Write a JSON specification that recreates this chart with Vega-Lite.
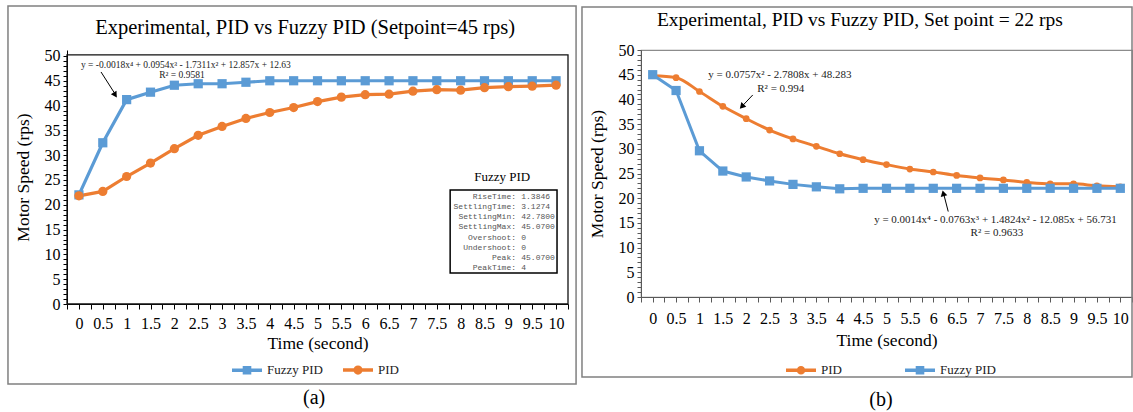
{
  "$schema": "https://vega.github.io/schema/vega-lite/v6.json",
  "padding": {"left": 7, "top": 5, "right": 0, "bottom": 0},
  "bounds": "flush",
  "spacing": 73,
  "background": "white",
  "config": {
    "font": "Liberation Serif",
    "view": {"stroke": null},
    "axis": {"labelFont": "Liberation Serif", "titleFont": "Liberation Serif", "labelColor": "#000", "titleColor": "#000", "titleFontWeight": "normal", "labelFontSize": 16, "titleFontSize": 17.5, "grid": false, "tickSize": 5, "labelPadding": 3, "labelOverlap": false, "labelBound": false, "labelFlush": false},
    "legend": {"labelFont": "Liberation Serif", "labelFontSize": 13, "labelColor": "#222"}
  },
  "datasets": {
    "left": [
      {"t": 0, "v": 22, "series": "Fuzzy PID"}, {"t": 0.5, "v": 32.5, "series": "Fuzzy PID"}, {"t": 1, "v": 41.2, "series": "Fuzzy PID"}, {"t": 1.5, "v": 42.7, "series": "Fuzzy PID"}, {"t": 2, "v": 44.1, "series": "Fuzzy PID"}, {"t": 2.5, "v": 44.4, "series": "Fuzzy PID"}, {"t": 3, "v": 44.4, "series": "Fuzzy PID"}, {"t": 3.5, "v": 44.7, "series": "Fuzzy PID"}, {"t": 4, "v": 45, "series": "Fuzzy PID"}, {"t": 4.5, "v": 45, "series": "Fuzzy PID"}, {"t": 5, "v": 45, "series": "Fuzzy PID"}, {"t": 5.5, "v": 45, "series": "Fuzzy PID"}, {"t": 6, "v": 45, "series": "Fuzzy PID"}, {"t": 6.5, "v": 45, "series": "Fuzzy PID"}, {"t": 7, "v": 45, "series": "Fuzzy PID"}, {"t": 7.5, "v": 45, "series": "Fuzzy PID"}, {"t": 8, "v": 45, "series": "Fuzzy PID"}, {"t": 8.5, "v": 45, "series": "Fuzzy PID"}, {"t": 9, "v": 45, "series": "Fuzzy PID"}, {"t": 9.5, "v": 45, "series": "Fuzzy PID"}, {"t": 10, "v": 45, "series": "Fuzzy PID"},
      {"t": 0, "v": 21.8, "series": "PID"}, {"t": 0.5, "v": 22.7, "series": "PID"}, {"t": 1, "v": 25.7, "series": "PID"}, {"t": 1.5, "v": 28.4, "series": "PID"}, {"t": 2, "v": 31.3, "series": "PID"}, {"t": 2.5, "v": 34, "series": "PID"}, {"t": 3, "v": 35.8, "series": "PID"}, {"t": 3.5, "v": 37.4, "series": "PID"}, {"t": 4, "v": 38.6, "series": "PID"}, {"t": 4.5, "v": 39.6, "series": "PID"}, {"t": 5, "v": 40.8, "series": "PID"}, {"t": 5.5, "v": 41.7, "series": "PID"}, {"t": 6, "v": 42.2, "series": "PID"}, {"t": 6.5, "v": 42.3, "series": "PID"}, {"t": 7, "v": 42.9, "series": "PID"}, {"t": 7.5, "v": 43.2, "series": "PID"}, {"t": 8, "v": 43.1, "series": "PID"}, {"t": 8.5, "v": 43.6, "series": "PID"}, {"t": 9, "v": 43.8, "series": "PID"}, {"t": 9.5, "v": 43.9, "series": "PID"}, {"t": 10, "v": 44.1, "series": "PID"}
    ],
    "right": [
      {"t": 0, "v": 44.8, "series": "PID"}, {"t": 0.5, "v": 44.4, "series": "PID"}, {"t": 1, "v": 41.6, "series": "PID"}, {"t": 1.5, "v": 38.6, "series": "PID"}, {"t": 2, "v": 36.1, "series": "PID"}, {"t": 2.5, "v": 33.8, "series": "PID"}, {"t": 3, "v": 32.0, "series": "PID"}, {"t": 3.5, "v": 30.5, "series": "PID"}, {"t": 4, "v": 29.0, "series": "PID"}, {"t": 4.5, "v": 27.8, "series": "PID"}, {"t": 5, "v": 26.8, "series": "PID"}, {"t": 5.5, "v": 25.9, "series": "PID"}, {"t": 6, "v": 25.3, "series": "PID"}, {"t": 6.5, "v": 24.6, "series": "PID"}, {"t": 7, "v": 24.1, "series": "PID"}, {"t": 7.5, "v": 23.7, "series": "PID"}, {"t": 8, "v": 23.2, "series": "PID"}, {"t": 8.5, "v": 22.9, "series": "PID"}, {"t": 9, "v": 22.9, "series": "PID"}, {"t": 9.5, "v": 22.5, "series": "PID"}, {"t": 10, "v": 22.3, "series": "PID"},
      {"t": 0, "v": 45, "series": "Fuzzy PID"}, {"t": 0.5, "v": 41.8, "series": "Fuzzy PID"}, {"t": 1, "v": 29.6, "series": "Fuzzy PID"}, {"t": 1.5, "v": 25.5, "series": "Fuzzy PID"}, {"t": 2, "v": 24.3, "series": "Fuzzy PID"}, {"t": 2.5, "v": 23.5, "series": "Fuzzy PID"}, {"t": 3, "v": 22.8, "series": "Fuzzy PID"}, {"t": 3.5, "v": 22.3, "series": "Fuzzy PID"}, {"t": 4, "v": 21.9, "series": "Fuzzy PID"}, {"t": 4.5, "v": 22, "series": "Fuzzy PID"}, {"t": 5, "v": 22, "series": "Fuzzy PID"}, {"t": 5.5, "v": 22, "series": "Fuzzy PID"}, {"t": 6, "v": 22, "series": "Fuzzy PID"}, {"t": 6.5, "v": 22, "series": "Fuzzy PID"}, {"t": 7, "v": 22, "series": "Fuzzy PID"}, {"t": 7.5, "v": 22, "series": "Fuzzy PID"}, {"t": 8, "v": 22, "series": "Fuzzy PID"}, {"t": 8.5, "v": 22, "series": "Fuzzy PID"}, {"t": 9, "v": 22, "series": "Fuzzy PID"}, {"t": 9.5, "v": 22, "series": "Fuzzy PID"}, {"t": 10, "v": 22, "series": "Fuzzy PID"}
    ]
  },
  "hconcat": [
    {
      "width": 501,
      "height": 254,
      "resolve": {"axis": {"x": "independent", "y": "independent"}},
      "layer": [
        {
          "data": {"name": "left"},
          "encoding": {
            "x": {"field": "t", "type": "quantitative", "scale": {"domain": [-0.25, 10.25], "nice": false, "zero": false},
              "axis": {"title": "Time (second)", "format": "~g", "values": [-0.25, 0, 0.25, 0.5, 0.75, 1, 1.25, 1.5, 1.75, 2, 2.25, 2.5, 2.75, 3, 3.25, 3.5, 3.75, 4, 4.25, 4.5, 4.75, 5, 5.25, 5.5, 5.75, 6, 6.25, 6.5, 6.75, 7, 7.25, 7.5, 7.75, 8, 8.25, 8.5, 8.75, 9, 9.25, 9.5, 9.75, 10, 10.25],
                "labelExpr": "(datum.value * 2) % 1 == 0 && datum.value >= 0 ? datum.label : ''", "labelFont": "Liberation Serif", "titleFont": "Liberation Serif", "domainColor": "#000", "tickColor": "#000", "labelPadding": 6, "titlePadding": 3}},
            "y": {"field": "v", "type": "quantitative", "scale": {"domain": [0, 51.2], "nice": false},
              "axis": {"title": "Motor Speed (rps)", "values": [0, 1, 2, 3, 4, 5, 6, 7, 8, 9, 10, 11, 12, 13, 14, 15, 16, 17, 18, 19, 20, 21, 22, 23, 24, 25, 26, 27, 28, 29, 30, 31, 32, 33, 34, 35, 36, 37, 38, 39, 40, 41, 42, 43, 44, 45, 46, 47, 48, 49, 50],
                "labelExpr": "datum.value % 5 == 0 ? datum.label : ''", "labelFont": "Liberation Serif", "titleFont": "Liberation Serif", "tickSize": 4, "domainColor": "#000", "tickColor": "#000", "titlePadding": 12}},
            "color": {"field": "series", "type": "nominal", "scale": {"domain": ["Fuzzy PID", "PID"], "range": ["#5B9BD5", "#ED7D31"]},
              "legend": {"title": null, "orient": "none", "legendX": 163, "legendY": 303, "direction": "horizontal", "symbolSize": 900, "columnPadding": 13, "labelOffset": 3, "labelFont": "Liberation Serif", "labelFontSize": 13,
                "encode": {"symbols": {"update": {
                  "shape": {"signal": "datum.value === 'PID' ? 'M-1,0H1M0.19,0A0.19,0.19,0,1,1,-0.19,0A0.19,0.19,0,1,1,0.19,0Z' : 'M-1,0H1M-0.17,-0.17H0.17V0.17H-0.17Z'"},
                  "fill": {"signal": "datum.value === 'PID' ? '#ED7D31' : '#5B9BD5'"},
                  "stroke": {"signal": "datum.value === 'PID' ? '#ED7D31' : '#5B9BD5'"},
                  "strokeWidth": {"value": 3.5},
                  "opacity": {"value": 1}
                }}}}}
          },
          "layer": [
            {"mark": {"type": "line", "strokeWidth": 3.2}},
            {"transform": [{"filter": "datum.series === 'Fuzzy PID'"}], "mark": {"type": "point", "shape": "square", "filled": true, "size": 85, "opacity": 1}},
            {"transform": [{"filter": "datum.series === 'PID'"}], "mark": {"type": "point", "shape": "circle", "filled": true, "size": 85, "opacity": 1}}
          ]
        },
        {
          "data": {"values": [{}]},
          "mark": {"type": "rect", "filled": false, "stroke": "#808080", "strokeWidth": 1.5},
          "encoding": {
            "x": {"datum": -1.487, "type": "quantitative", "axis": null},
            "x2": {"datum": 10.419},
            "y": {"datum": 60.08, "type": "quantitative", "axis": null},
            "y2": {"datum": -16.13}
          }
        },
        {
          "data": {"values": [{}]},
          "mark": {"type": "rect", "filled": false, "stroke": "#111", "strokeWidth": 1.3},
          "encoding": {
            "x": {"datum": -0.25, "type": "quantitative", "axis": null},
            "x2": {"datum": 10.25},
            "y": {"datum": 50.2, "type": "quantitative", "axis": null},
            "y2": {"datum": 0}
          }
        },
        {
          "data": {"values": [{}]},
          "mark": {"type": "text", "text": "Experimental, PID vs Fuzzy PID (Setpoint=45 rps)", "align": "center", "baseline": "middle", "fontSize": 20.5, "font": "Liberation Serif", "color": "#000"},
          "encoding": {
            "x": {"datum": 4.74, "type": "quantitative", "axis": null},
            "y": {"datum": 55.6, "type": "quantitative", "axis": null}
          }
        },
        {
          "data": {"values": [{}]},
          "mark": {"type": "text", "text": "y = -0.0018x⁴ + 0.0954x³ - 1.7311x²  + 12.857x + 12.63", "align": "left", "baseline": "middle", "fontSize": 9.5, "font": "Liberation Serif", "color": "#222"},
          "encoding": {
            "x": {"datum": 0.043, "type": "quantitative", "axis": null},
            "y": {"datum": 48.2, "type": "quantitative", "axis": null}
          }
        },
        {
          "data": {"values": [{}]},
          "mark": {"type": "text", "text": "R² = 0.9581", "align": "center", "baseline": "middle", "fontSize": 9.5, "font": "Liberation Serif", "color": "#222"},
          "encoding": {
            "x": {"datum": 2.16, "type": "quantitative", "axis": null},
            "y": {"datum": 46.2, "type": "quantitative", "axis": null}
          }
        },
        {
          "data": {"values": [{}]},
          "mark": {"type": "rule", "color": "#000", "strokeWidth": 1},
          "encoding": {
            "x": {"datum": 0.463, "type": "quantitative", "axis": null},
            "x2": {"datum": 0.74},
            "y": {"datum": 46.77, "type": "quantitative", "axis": null},
            "y2": {"datum": 42.6}
          }
        },
        {
          "data": {"values": [{}]},
          "mark": {"type": "point", "shape": "triangle", "filled": true, "color": "#000", "size": 45, "angle": 147, "opacity": 1},
          "encoding": {
            "x": {"datum": 0.75, "type": "quantitative", "axis": null},
            "y": {"datum": 42.3, "type": "quantitative", "axis": null}
          }
        },
        {
          "data": {"values": [{}]},
          "mark": {"type": "rect", "fill": "white", "stroke": "#000", "strokeWidth": 1.5},
          "encoding": {
            "x": {"datum": 7.78, "type": "quantitative", "axis": null},
            "x2": {"datum": 10.02},
            "y": {"datum": 22.98, "type": "quantitative", "axis": null},
            "y2": {"datum": 6.25}
          }
        },
        {
          "data": {"values": [{}]},
          "mark": {"type": "text", "text": "Fuzzy PID", "align": "center", "baseline": "middle", "fontSize": 13, "font": "Liberation Serif", "color": "#000"},
          "encoding": {
            "x": {"datum": 8.87, "type": "quantitative", "axis": null},
            "y": {"datum": 25.6, "type": "quantitative", "axis": null}
          }
        },
        {
          "data": {"values": [{}]},
          "mark": {"type": "text", "text": ["RiseTime:", "SettlingTime:", "SettlingMin:", "SettlingMax:", "Overshoot:", "Undershoot:", "Peak:", "PeakTime:"], "align": "right", "baseline": "top", "lineHeight": 10.2, "fontSize": 8, "font": "Liberation Mono", "color": "#555"},
          "encoding": {
            "x": {"datum": 9.16, "type": "quantitative", "axis": null},
            "y": {"datum": 22.4, "type": "quantitative", "axis": null}
          }
        },
        {
          "data": {"values": [{}]},
          "mark": {"type": "text", "text": ["1.3846", "3.1274", "42.7800", "45.0700", "0", "0", "45.0700", "4"], "align": "left", "baseline": "top", "lineHeight": 10.2, "fontSize": 8, "font": "Liberation Mono", "color": "#555"},
          "encoding": {
            "x": {"datum": 9.27, "type": "quantitative", "axis": null},
            "y": {"datum": 22.4, "type": "quantitative", "axis": null}
          }
        },
        {
          "data": {"values": [{}]},
          "mark": {"type": "text", "text": "(a)", "align": "center", "baseline": "middle", "fontSize": 20, "font": "Liberation Serif", "color": "#000"},
          "encoding": {
            "x": {"datum": 4.93, "type": "quantitative", "axis": null},
            "y": {"datum": -18.95, "type": "quantitative", "axis": null}
          }
        }
      ]
    },
    {
      "width": 491,
      "height": 247,
      "view": {"stroke": "#8c8c8c", "strokeWidth": 1.2},
      "resolve": {"axis": {"x": "independent", "y": "independent"}},
      "layer": [
        {
          "data": {"name": "right"},
          "encoding": {
            "x": {"field": "t", "type": "quantitative", "scale": {"domain": [-0.25, 10.25], "nice": false, "zero": false},
              "axis": {"title": "Time (second)", "format": "~g", "values": [-0.25, 0, 0.25, 0.5, 0.75, 1, 1.25, 1.5, 1.75, 2, 2.25, 2.5, 2.75, 3, 3.25, 3.5, 3.75, 4, 4.25, 4.5, 4.75, 5, 5.25, 5.5, 5.75, 6, 6.25, 6.5, 6.75, 7, 7.25, 7.5, 7.75, 8, 8.25, 8.5, 8.75, 9, 9.25, 9.5, 9.75, 10, 10.25],
                "labelExpr": "(datum.value * 2) % 1 == 0 && datum.value >= 0 ? datum.label : ''", "labelFont": "Liberation Serif", "titleFont": "Liberation Serif", "domainColor": "#595959", "tickColor": "#595959", "labelPadding": 8, "titlePadding": 5}},
            "y": {"field": "v", "type": "quantitative", "scale": {"domain": [0, 50], "nice": false},
              "axis": {"title": "Motor Speed (rps)", "values": [0, 1, 2, 3, 4, 5, 6, 7, 8, 9, 10, 11, 12, 13, 14, 15, 16, 17, 18, 19, 20, 21, 22, 23, 24, 25, 26, 27, 28, 29, 30, 31, 32, 33, 34, 35, 36, 37, 38, 39, 40, 41, 42, 43, 44, 45, 46, 47, 48, 49, 50],
                "labelExpr": "datum.value % 5 == 0 ? datum.label : ''", "labelFont": "Liberation Serif", "titleFont": "Liberation Serif", "tickSize": 4, "domainColor": "#595959", "tickColor": "#595959", "titlePadding": 12}},
            "color": {"field": "series", "type": "nominal", "scale": {"domain": ["PID", "Fuzzy PID"], "range": ["#ED7D31", "#5B9BD5"]},
              "legend": {"title": null, "orient": "none", "legendX": 143, "legendY": 303, "direction": "horizontal", "symbolSize": 900, "columnPadding": 56, "labelOffset": 3, "labelFont": "Liberation Serif", "labelFontSize": 13,
                "encode": {"symbols": {"update": {
                  "shape": {"signal": "datum.value === 'PID' ? 'M-1,0H1M0.17,0A0.17,0.17,0,1,1,-0.17,0A0.17,0.17,0,1,1,0.17,0Z' : 'M-1,0H1M-0.17,-0.17H0.17V0.17H-0.17Z'"},
                  "fill": {"signal": "datum.value === 'PID' ? '#ED7D31' : '#5B9BD5'"},
                  "stroke": {"signal": "datum.value === 'PID' ? '#ED7D31' : '#5B9BD5'"},
                  "strokeWidth": {"value": 3.5},
                  "opacity": {"value": 1}
                }}}}}
          },
          "layer": [
            {"transform": [{"filter": "datum.series === 'PID'"}], "mark": {"type": "line", "strokeWidth": 3, "interpolate": "monotone"}},
            {"transform": [{"filter": "datum.series === 'Fuzzy PID'"}], "mark": {"type": "line", "strokeWidth": 3}},
            {"transform": [{"filter": "datum.series === 'PID'"}], "mark": {"type": "point", "shape": "circle", "filled": true, "size": 45, "opacity": 1}},
            {"transform": [{"filter": "datum.series === 'Fuzzy PID'"}], "mark": {"type": "point", "shape": "square", "filled": true, "size": 85, "opacity": 1}}
          ]
        },
        {
          "data": {"values": [{}]},
          "mark": {"type": "rect", "filled": false, "stroke": "#808080", "strokeWidth": 1.5},
          "encoding": {
            "x": {"datum": -1.512, "type": "quantitative", "axis": null},
            "x2": {"datum": 10.25},
            "y": {"datum": 58.7, "type": "quantitative", "axis": null},
            "y2": {"datum": -16.19}
          }
        },
        {
          "data": {"values": [{}]},
          "mark": {"type": "text", "text": "Experimental, PID vs Fuzzy PID, Set point = 22 rps", "align": "center", "baseline": "middle", "fontSize": 19.5, "font": "Liberation Serif", "color": "#000"},
          "encoding": {
            "x": {"datum": 4.43, "type": "quantitative", "axis": null},
            "y": {"datum": 56.1, "type": "quantitative", "axis": null}
          }
        },
        {
          "data": {"values": [{}]},
          "mark": {"type": "text", "text": "y = 0.0757x² - 2.7808x + 48.283", "align": "center", "baseline": "middle", "fontSize": 11, "font": "Liberation Serif", "color": "#222"},
          "encoding": {
            "x": {"datum": 2.72, "type": "quantitative", "axis": null},
            "y": {"datum": 44.9, "type": "quantitative", "axis": null}
          }
        },
        {
          "data": {"values": [{}]},
          "mark": {"type": "text", "text": "R² = 0.994", "align": "center", "baseline": "middle", "fontSize": 11, "font": "Liberation Serif", "color": "#222"},
          "encoding": {
            "x": {"datum": 2.74, "type": "quantitative", "axis": null},
            "y": {"datum": 42.2, "type": "quantitative", "axis": null}
          }
        },
        {
          "data": {"values": [{}]},
          "mark": {"type": "rule", "color": "#000", "strokeWidth": 1},
          "encoding": {
            "x": {"datum": 2.14, "type": "quantitative", "axis": null},
            "x2": {"datum": 1.93},
            "y": {"datum": 40.9, "type": "quantitative", "axis": null},
            "y2": {"datum": 38.8}
          }
        },
        {
          "data": {"values": [{}]},
          "mark": {"type": "point", "shape": "triangle", "filled": true, "color": "#000", "size": 45, "angle": 223, "opacity": 1},
          "encoding": {
            "x": {"datum": 1.92, "type": "quantitative", "axis": null},
            "y": {"datum": 38.7, "type": "quantitative", "axis": null}
          }
        },
        {
          "data": {"values": [{}]},
          "mark": {"type": "text", "text": "y = 0.0014x⁴ - 0.0763x³ + 1.4824x² - 12.085x + 56.731", "align": "center", "baseline": "middle", "fontSize": 11, "font": "Liberation Serif", "color": "#222"},
          "encoding": {
            "x": {"datum": 7.33, "type": "quantitative", "axis": null},
            "y": {"datum": 15.6, "type": "quantitative", "axis": null}
          }
        },
        {
          "data": {"values": [{}]},
          "mark": {"type": "text", "text": "R² = 0.9633", "align": "center", "baseline": "middle", "fontSize": 11, "font": "Liberation Serif", "color": "#222"},
          "encoding": {
            "x": {"datum": 7.36, "type": "quantitative", "axis": null},
            "y": {"datum": 12.9, "type": "quantitative", "axis": null}
          }
        },
        {
          "data": {"values": [{}]},
          "mark": {"type": "rule", "color": "#000", "strokeWidth": 1},
          "encoding": {
            "x": {"datum": 6.32, "type": "quantitative", "axis": null},
            "x2": {"datum": 6.23},
            "y": {"datum": 17.3, "type": "quantitative", "axis": null},
            "y2": {"datum": 20.6}
          }
        },
        {
          "data": {"values": [{}]},
          "mark": {"type": "point", "shape": "triangle", "filled": true, "color": "#000", "size": 45, "angle": 346, "opacity": 1},
          "encoding": {
            "x": {"datum": 6.22, "type": "quantitative", "axis": null},
            "y": {"datum": 20.8, "type": "quantitative", "axis": null}
          }
        },
        {
          "data": {"values": [{}]},
          "mark": {"type": "text", "text": "(b)", "align": "center", "baseline": "middle", "fontSize": 20, "font": "Liberation Serif", "color": "#000"},
          "encoding": {
            "x": {"datum": 4.88, "type": "quantitative", "axis": null},
            "y": {"datum": -20.85, "type": "quantitative", "axis": null}
          }
        }
      ]
    }
  ],
  "resolve": {"scale": {"x": "independent", "y": "independent", "color": "independent"}, "legend": {"color": "independent"}}
}
